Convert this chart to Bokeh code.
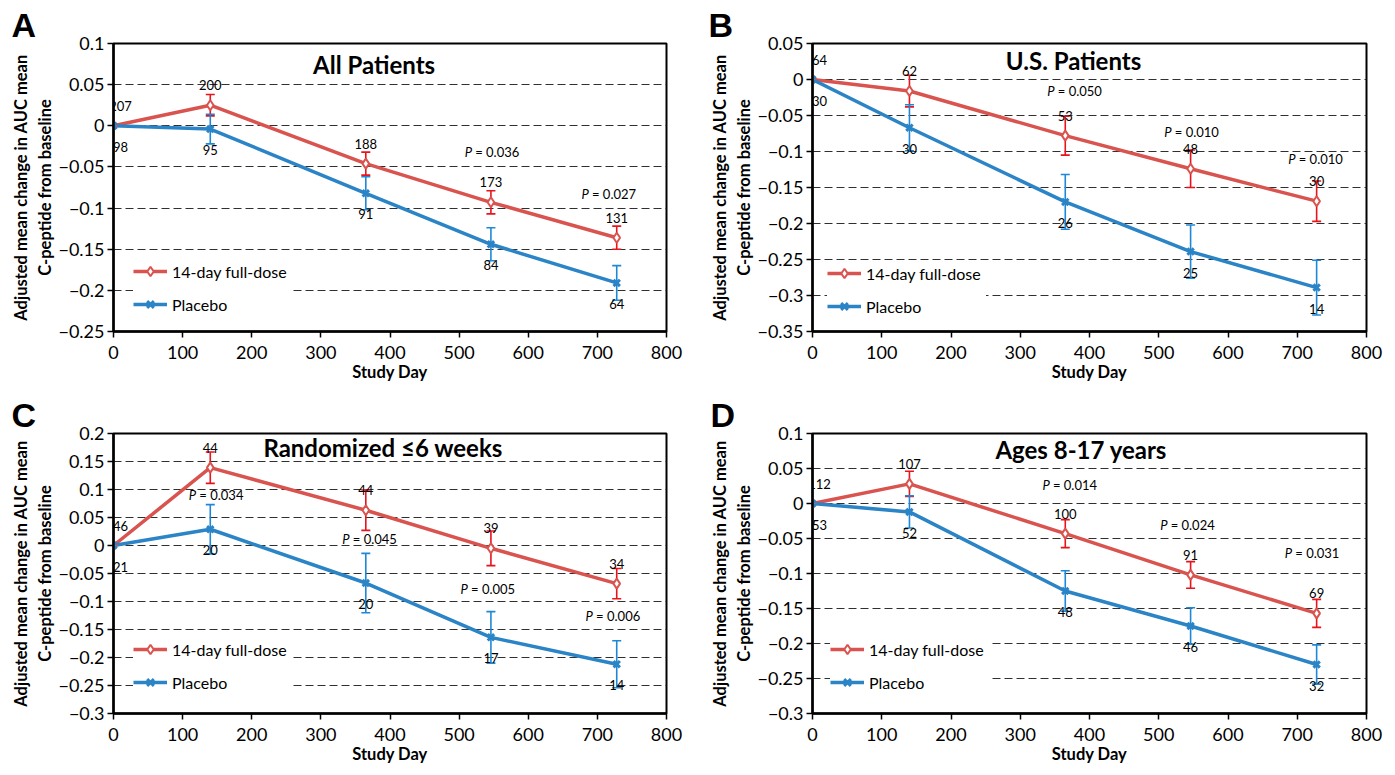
from bokeh.plotting import figure
from bokeh.layouts import column, row
from bokeh.models import (Range1d, FixedTicker, CustomJSTickFormatter, ColumnDataSource,
                          Whisker, TeeHead, Legend, LegendItem, Label)
from bokeh.core.properties import value
from bokeh.embed import file_html
from bokeh.resources import INLINE

FONT = "Lato"
RED = "#D9534F"
RED_ERR = "#E8131B"
BLUE = "#2B84C6"
BLUE_ERR = "#1E88D6"

days = [0, 140, 365, 546, 728]

# Panel A - All Patients
a_full = [0, 0.025, -0.046, -0.093, -0.136]
a_full_se = [0, 0.013, 0.014, 0.014, 0.014]
a_plac = [0, -0.004, -0.082, -0.144, -0.191]
a_plac_se = [0, 0.018, 0.020, 0.020, 0.021]
a_n_full = [207, 200, 188, 173, 131]
a_n_plac = [98, 95, 91, 84, 64]
a_p = ["0.036", "0.027"]
a_p_x = [508, 677]
a_p_y = [-0.032, -0.0825]

# Panel B - U.S. Patients
b_full = [0, -0.016, -0.078, -0.124, -0.169]
b_full_se = [0, 0.022, 0.027, 0.026, 0.028]
b_plac = [0, -0.067, -0.170, -0.239, -0.289]
b_plac_se = [0, 0.032, 0.038, 0.037, 0.038]
b_n_full = [64, 62, 53, 48, 30]
b_n_plac = [30, 30, 26, 25, 14]
b_p = ["0.050", "0.010", "0.010"]
b_p_x = [339, 508, 687]
b_p_y = [-0.016, -0.0725, -0.111]

# Panel C - Randomized <=6 weeks
c_full = [0, 0.139, 0.063, -0.005, -0.068]
c_full_se = [0, 0.028, 0.036, 0.031, 0.027]
c_plac = [0, 0.029, -0.067, -0.164, -0.212]
c_plac_se = [0, 0.044, 0.053, 0.046, 0.042]
c_n_full = [46, 44, 44, 39, 34]
c_n_plac = [21, 20, 20, 17, 14]
c_p = ["0.034", "0.045", "0.005", "0.006"]
c_p_x = [109, 331, 502, 683]
c_p_y = [0.090, 0.0125, -0.077, -0.126]

# Panel D - Ages 8-17 years
d_full = [0, 0.028, -0.043, -0.102, -0.157]
d_full_se = [0, 0.018, 0.020, 0.019, 0.020]
d_plac = [0, -0.012, -0.125, -0.175, -0.230]
d_plac_se = [0, 0.023, 0.029, 0.026, 0.028]
d_n_full = [112, 107, 100, 91, 69]
d_n_plac = [53, 52, 48, 46, 32]
d_p = ["0.014", "0.024", "0.031"]
d_p_x = [332, 502, 682]
d_p_y = [0.026, -0.031, -0.070]

x_ticks = [0, 100, 200, 300, 400, 500, 600, 700, 800]

YFMT = """
const v = Math.round(tick*100)/100;
if (v == 0) return "0";
const s = Math.abs(v).toString();
return v < 0 ? "\\u2212" + s : s;
"""


def make_panel(letter, letter_off, title, title_pos, yr, full, full_se, plac, plac_se,
               n_full, n_plac, pv, pvx, pvy, legend_loc, size, borders):
    w, h = size
    bl, bt, br, bb = borders
    p = figure(width=w, height=h, output_backend="svg", toolbar_location=None,
               x_range=Range1d(0, 800), y_range=Range1d(yr[0], yr[1]))
    p.min_border_left = bl
    p.min_border_top = bt
    p.min_border_right = br
    p.min_border_bottom = bb
    p.background_fill_color = "white"
    p.border_fill_color = "white"
    p.outline_line_color = "black"
    p.outline_line_width = 2
    p.outline_line_alpha = 1

    # panel letter as the figure title
    p.title.text = letter
    p.title.text_font = "Liberation Sans"
    p.title.text_font_style = "bold"
    p.title.text_font_size = "34px"
    p.title.text_color = "black"
    p.title.align = "left"
    p.title.offset = letter_off
    p.title.standoff = 0

    nt = int(round((yr[1] - yr[0]) / 0.05))
    yt = [round(yr[0] + i * 0.05, 2) for i in range(nt + 1)]
    p.yaxis.ticker = FixedTicker(ticks=yt)
    p.xaxis.ticker = FixedTicker(ticks=x_ticks)
    p.yaxis.formatter = CustomJSTickFormatter(code=YFMT)

    for ax in (p.xaxis[0], p.yaxis[0]):
        ax.axis_line_color = "black"
        ax.axis_line_width = 2.5
        ax.major_tick_line_color = "black"
        ax.major_tick_line_width = 1.5
        ax.major_tick_out = 6
        ax.major_tick_in = 0
        ax.minor_tick_line_color = None
        ax.major_label_text_font = FONT
        ax.major_label_text_font_size = "18px"
        ax.major_label_text_color = "black"
        ax.axis_label_text_font = FONT
        ax.axis_label_text_font_style = "bold"
        ax.axis_label_text_font_size = "16.5px"
        ax.axis_label_text_color = "black"
    p.xaxis.axis_label = "Study Day"
    p.xaxis.major_label_standoff = 8
    p.xaxis.axis_label_standoff = 0
    p.yaxis.axis_label = "Adjusted mean change in AUC mean\nC-peptide from baseline"
    p.yaxis.major_label_standoff = 3
    p.yaxis.axis_label_standoff = 0

    p.xgrid.grid_line_color = None
    p.ygrid.grid_line_color = "#303030"
    p.ygrid.grid_line_dash = "8 4"
    p.ygrid.grid_line_width = 1.2

    # lines
    rl = p.line(days, full, line_color=RED, line_width=3.5)
    bl_ = p.line(days, plac, line_color=BLUE, line_width=3.5)

    # error bars
    def whisk(vals, se, color):
        xs = [d for d, s in zip(days, se) if s > 0]
        up = [v + s for v, s in zip(vals, se) if s > 0]
        lo = [v - s for v, s in zip(vals, se) if s > 0]
        src = ColumnDataSource(dict(x=xs, upper=up, lower=lo))
        wk = Whisker(source=src, base="x", upper="upper", lower="lower",
                     line_color=color, line_width=1.6,
                     upper_head=TeeHead(size=9, line_color=color, line_width=1.6),
                     lower_head=TeeHead(size=9, line_color=color, line_width=1.6))
        p.add_layout(wk)

    whisk(full, full_se, RED_ERR)
    whisk(plac, plac_se, BLUE_ERR)

    rm = p.scatter(days, full, marker="diamond", size=10, fill_color="white",
                   line_color=RED, line_width=2)
    bm = p.scatter(days, plac, marker="x", size=9, line_color=BLUE, line_width=3)

    # n labels (first one nudged inside the frame so it is not clipped)
    xoff = [7 if d == 0 else 0 for d in days]
    src_f = ColumnDataSource(dict(x=days, y=full, t=[str(n) for n in n_full], xo=xoff))
    src_p = ColumnDataSource(dict(x=days, y=plac, t=[str(n) for n in n_plac], xo=xoff))
    p.text(x="x", y="y", text="t", source=src_f, x_offset="xo", text_font=value(FONT),
           text_font_size="13px", text_align="center", text_baseline="middle",
           y_offset=-20, text_color="black")
    p.text(x="x", y="y", text="t", source=src_p, x_offset="xo", text_font=value(FONT),
           text_font_size="13px", text_align="center", text_baseline="middle",
           y_offset=21, text_color="black")

    # p-values
    p.text(x=pvx, y=pvy, text=["P"] * len(pv), text_font=value(FONT),
           text_font_style="italic", text_font_size="13px", text_align="left",
           text_baseline="middle", text_color="black")
    p.text(x=pvx, y=pvy, text=["= " + v for v in pv], text_font=value(FONT),
           text_font_size="13px", text_align="left", text_baseline="middle",
           x_offset=10.5, text_color="black")

    # subgroup title inside the plot
    p.add_layout(Label(x=title_pos[0], y=title_pos[1], text=title, text_font=FONT,
                       text_font_style="bold", text_font_size="24px",
                       text_align="center", text_baseline="middle", text_color="black"))

    leg = Legend(items=[LegendItem(label="14-day full-dose", renderers=[rl, rm]),
                        LegendItem(label="Placebo", renderers=[bl_, bm])],
                 location=legend_loc)
    leg.background_fill_color = "white"
    leg.background_fill_alpha = 1
    leg.border_line_color = None
    leg.label_text_font = FONT
    leg.label_text_font_size = "16px"
    leg.label_text_color = "black"
    leg.glyph_width = 34
    leg.glyph_height = 24
    leg.label_height = 24
    leg.label_width = 120
    leg.spacing = 9
    leg.padding = 6
    leg.margin = 0
    leg.label_standoff = 5
    p.add_layout(leg)
    return p


pa = make_panel("A", -102, "All Patients", (377, 0.075), (-0.25, 0.1),
                a_full, a_full_se, a_plac, a_plac_se, a_n_full, a_n_plac,
                a_p, a_p_x, a_p_y, (20, 15), (698, 385), (113, 43, 32, 54))
pb = make_panel("B", -104, "U.S. Patients", (377, 0.026), (-0.35, 0.05),
                b_full, b_full_se, b_plac, b_plac_se, b_n_full, b_n_plac,
                b_p, b_p_x, b_p_y, (15, 13), (689, 385), (114, 43, 21, 54))
pc = make_panel("C", -102, "Randomized \u22646 weeks", (390, 0.1756), (-0.3, 0.2),
                c_full, c_full_se, c_plac, c_plac_se, c_n_full, c_n_plac,
                c_p, c_p_x, c_p_y, (20, 19), (698, 382), (113, 48, 32, 54))
pd = make_panel("D", -102, "Ages 8-17 years", (388, 0.0773), (-0.3, 0.1),
                d_full, d_full_se, d_plac, d_plac_se, d_n_full, d_n_plac,
                d_p, d_p_x, d_p_y, (18, 19), (689, 382), (114, 48, 21, 54))

layout = column(row(pa, pb), row(pc, pd))
open("out.html", "w").write(file_html(layout, INLINE))
